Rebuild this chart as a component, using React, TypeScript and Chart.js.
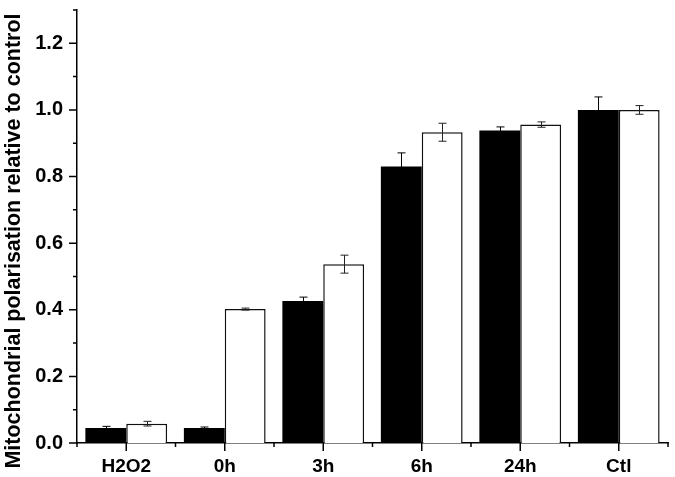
import React, { useEffect, useRef } from "react";
import { Chart, registerables } from "chart.js";

Chart.register(...registerables);

const categories = ["H2O2", "0h", "3h", "6h", "24h", "Ctl"];
const blackValues = [0.045, 0.045, 0.426, 0.83, 0.938, 1.0];
const blackErrors = [0.005, 0.003, 0.012, 0.041, 0.011, 0.039];
const whiteValues = [0.058, 0.402, 0.537, 0.933, 0.956, 1.0];
const whiteErrors = [0.007, 0.003, 0.027, 0.027, 0.008, 0.013];
const yTickValues = [0, 0.1, 0.2, 0.3, 0.4, 0.5, 0.6, 0.7, 0.8, 0.9, 1.0, 1.1, 1.2, 1.3];
const yTitle = "Mitochondrial polarisation relative to control";

const FONT = "'Liberation Sans', Arial, sans-serif";

const decorPlugin = {
  id: "decor",
  afterDatasetsDraw(chart: any) {
    const ctx = chart.ctx;
    const y = chart.scales.y;
    const errs = [blackErrors, whiteErrors];
    const vals = [blackValues, whiteValues];
    ctx.save();
    ctx.lineWidth = 1;
    for (let d = 0; d < 2; d++) {
      ctx.strokeStyle = d === 0 ? "#000" : "#222";
      const meta = chart.getDatasetMeta(d);
      meta.data.forEach((bar: any, i: number) => {
        const v = vals[d][i];
        const e = errs[d][i];
        const yt = y.getPixelForValue(v + e);
        const yb = y.getPixelForValue(v - e);
        const cx = Math.round(bar.x) + 0.5;
        ctx.beginPath();
        ctx.moveTo(cx, yt);
        ctx.lineTo(cx, yb);
        ctx.moveTo(cx - 4, yt);
        ctx.lineTo(cx + 4, yt);
        ctx.moveTo(cx - 4, yb);
        ctx.lineTo(cx + 4, yb);
        ctx.stroke();
      });
    }
    ctx.restore();
  },
  afterDraw(chart: any) {
    const ctx = chart.ctx;
    const x = chart.scales.x;
    const y = chart.scales.y;
    const area = chart.chartArea;
    ctx.save();
    ctx.strokeStyle = "#000";
    ctx.lineWidth = 1.5;
    ctx.beginPath();
    yTickValues.forEach((v, i) => {
      const py = y.getPixelForValue(v);
      const len = i % 2 === 0 ? 8 : 4;
      ctx.moveTo(area.left - len, py);
      ctx.lineTo(area.left, py);
    });
    const n = categories.length;
    for (let i = 0; i < n; i++) {
      const px = x.getPixelForValue(i);
      ctx.moveTo(px, area.bottom);
      ctx.lineTo(px, area.bottom + 8);
    }
    const step = (area.right - area.left) / n;
    for (let i = 0; i <= n; i++) {
      const px = area.left + step * i;
      ctx.moveTo(px, area.bottom);
      ctx.lineTo(px, area.bottom + 4);
    }
    ctx.stroke();

    // axis title
    ctx.fillStyle = "#000";
    ctx.font = "bold 21.5px " + FONT;
    ctx.textAlign = "center";
    ctx.textBaseline = "alphabetic";
    ctx.translate(20, 241);
    ctx.rotate(-Math.PI / 2);
    ctx.fillText(yTitle, 0, 0);
    ctx.restore();
  },
};

export default function App() {
  const ref = useRef<HTMLCanvasElement | null>(null);
  useEffect(() => {
    document.body.style.margin = "0";
    const canvas = ref.current;
    if (!canvas) return;
    const chart = new Chart(canvas, {
      type: "bar",
      data: {
        labels: categories,
        datasets: [
          {
            label: "A",
            data: blackValues,
            backgroundColor: "#000",
            borderColor: "#000",
            borderWidth: 0,
            categoryPercentage: 0.83,
            barPercentage: 1.0,
          },
          {
            label: "B",
            data: whiteValues,
            backgroundColor: "#fff",
            borderColor: "#111",
            borderWidth: 1.5,
            categoryPercentage: 0.83,
            barPercentage: 1.0,
          },
        ],
      },
      options: {
        animation: false,
        responsive: false,
        devicePixelRatio: 1,
        layout: { padding: { top: 10, right: 7, left: 0, bottom: 0 } },
        plugins: {
          legend: { display: false },
          tooltip: { enabled: false },
        },
        scales: {
          x: {
            grid: { display: false, drawTicks: false },
            border: { display: true, color: "#000", width: 1.5 },
            ticks: {
              color: "#000",
              font: { family: FONT, size: 19, weight: "bold" },
              padding: 12,
              maxRotation: 0,
            },
            afterFit(scale: any) {
              scale.height = 34;
              scale.paddingLeft = 0;
              scale.paddingRight = 0;
            },
          },
          y: {
            min: 0,
            max: 1.3,
            grid: { display: false, drawTicks: false },
            border: { display: true, color: "#000", width: 1.5 },
            ticks: {
              stepSize: 0.2,
              autoSkip: false,
              color: "#000",
              font: { family: FONT, size: 20, weight: "bold" },
              padding: 14,
              callback: (v: any) => {
                const n = Math.round(Number(v) * 10);
                return n % 2 === 0 && n <= 12 ? (n / 10).toFixed(1) : "";
              },
            },
            afterFit(scale: any) {
              scale.width = 77;
              scale.paddingTop = 0;
              scale.paddingBottom = 0;
            },
          },
        },
      },
      plugins: [decorPlugin],
    });
    return () => chart.destroy();
  }, []);
  return (
    <div style={{ position: "absolute", left: 0, top: 0, width: 675, height: 477, background: "#fff" }}>
      <canvas ref={ref} width={675} height={477} style={{ width: 675, height: 477, display: "block" }} />
    </div>
  );
}
